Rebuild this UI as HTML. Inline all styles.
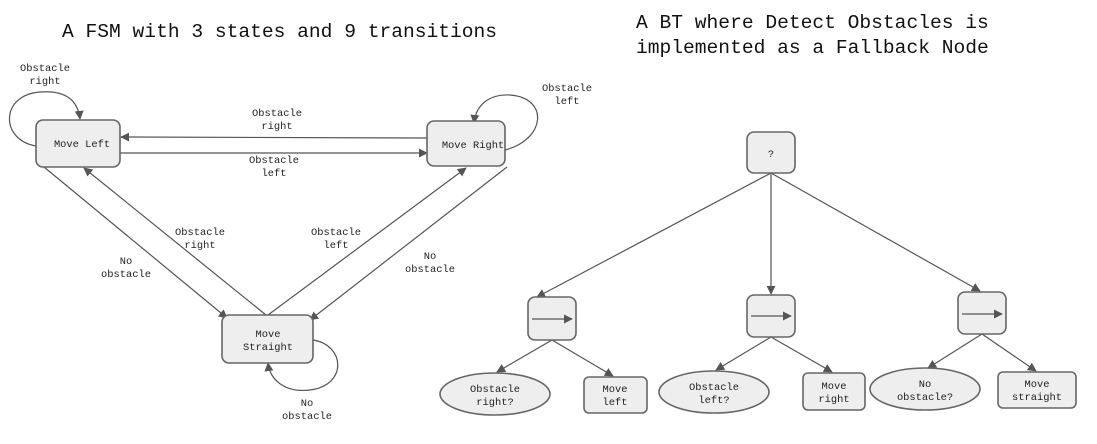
<!DOCTYPE html>
<html><head><meta charset="utf-8"><style>
html,body{margin:0;padding:0;background:#fff;}
svg{display:block;}
text{font-family:"Liberation Mono",monospace;fill:#222;}
.t{font-size:19.6px;fill:#111;}
.s{font-size:10.4px;text-anchor:middle;}
.n{fill:#eeeeee;stroke:#666;stroke-width:1.6;}
.e{fill:none;stroke:#555;stroke-width:1.2;}
</style></head><body>
<svg width="1097" height="444" viewBox="0 0 1097 444" xmlns="http://www.w3.org/2000/svg">
<defs>
<marker id="a" viewBox="0 0 10 10" refX="9" refY="5" markerWidth="9" markerHeight="9" markerUnits="userSpaceOnUse" orient="auto">
<path d="M0,0 L10,5 L0,10 z" fill="#555"/></marker>
</defs>
<text class="t" x="62" y="37">A FSM with 3 states and 9 transitions</text>
<text class="t" x="636" y="28">A BT where Detect Obstacles is</text>
<text class="t" x="636" y="53">implemented as a Fallback Node</text>

<!-- FSM edges -->
<path class="e" d="M120,153 L427,153" marker-end="url(#a)"/>
<path class="e" d="M427,138 L121,137" marker-end="url(#a)"/>
<path class="e" d="M36,146 C0,140 0,95 40,92 C65,90 78,100 80,119" marker-end="url(#a)"/>
<path class="e" d="M505,150 C545,140 550,98 510,95 C490,94 476,104 474,123" marker-end="url(#a)"/>
<path class="e" d="M44,167 L227,318" marker-end="url(#a)"/>
<path class="e" d="M266,315 L84,168" marker-end="url(#a)"/>
<path class="e" d="M268,315 L466,168" marker-end="url(#a)"/>
<path class="e" d="M507,167 L310,320" marker-end="url(#a)"/>
<path class="e" d="M313,340 C345,345 348,385 310,390 C285,393 270,380 268,363" marker-end="url(#a)"/>

<rect class="n" x="36" y="120" width="84" height="47" rx="7"/>
<rect class="n" x="427" y="121" width="78" height="45" rx="7"/>
<rect class="n" x="222" y="315" width="91" height="48" rx="7"/>
<text class="s" x="82" y="147">Move Left</text>
<text class="s" x="473" y="148">Move Right</text>
<text class="s" x="268" y="337">Move</text>
<text class="s" x="268" y="350">Straight</text>

<text class="s" x="45" y="71">Obstacle</text><text class="s" x="45" y="84">right</text>
<text class="s" x="567" y="91">Obstacle</text><text class="s" x="567" y="104">left</text>
<text class="s" x="277" y="116">Obstacle</text><text class="s" x="277" y="129">right</text>
<text class="s" x="274" y="163">Obstacle</text><text class="s" x="274" y="176">left</text>
<text class="s" x="200" y="235">Obstacle</text><text class="s" x="200" y="248">right</text>
<text class="s" x="336" y="235">Obstacle</text><text class="s" x="336" y="248">left</text>
<text class="s" x="126" y="264">No</text><text class="s" x="126" y="277">obstacle</text>
<text class="s" x="430" y="259">No</text><text class="s" x="430" y="272">obstacle</text>
<text class="s" x="307" y="406">No</text><text class="s" x="307" y="419">obstacle</text>

<!-- BT edges -->
<path class="e" d="M771,173 L537,297" marker-end="url(#a)"/>
<path class="e" d="M771,173 L771,294" marker-end="url(#a)"/>
<path class="e" d="M771,173 L980,291" marker-end="url(#a)"/>
<path class="e" d="M552,340 L497,372" marker-end="url(#a)"/>
<path class="e" d="M552,340 L613,376" marker-end="url(#a)"/>
<path class="e" d="M771,337 L716,370" marker-end="url(#a)"/>
<path class="e" d="M771,337 L832,372" marker-end="url(#a)"/>
<path class="e" d="M982,334 L928,368" marker-end="url(#a)"/>
<path class="e" d="M982,334 L1036,371" marker-end="url(#a)"/>

<rect class="n" x="747" y="132" width="48" height="41" rx="7"/>
<text class="s" x="771" y="157">?</text>
<rect class="n" x="528" y="297" width="48" height="43" rx="7"/>
<rect class="n" x="747" y="295" width="48" height="42" rx="7"/>
<rect class="n" x="958" y="292" width="48" height="42" rx="7"/>
<path class="e" d="M532,319 L572,319" marker-end="url(#a)"/>
<path class="e" d="M751,316 L791,316" marker-end="url(#a)"/>
<path class="e" d="M962,314 L1002,314" marker-end="url(#a)"/>

<ellipse class="n" cx="495" cy="394" rx="55" ry="21"/>
<text class="s" x="495" y="392">Obstacle</text><text class="s" x="495" y="405">right?</text>
<rect class="n" x="584" y="377" width="63" height="36" rx="5"/>
<text class="s" x="615" y="392">Move</text><text class="s" x="615" y="405">left</text>
<ellipse class="n" cx="714" cy="392" rx="55" ry="21"/>
<text class="s" x="714" y="390">Obstacle</text><text class="s" x="714" y="403">left?</text>
<rect class="n" x="803" y="373" width="62" height="37" rx="5"/>
<text class="s" x="834" y="389">Move</text><text class="s" x="834" y="402">right</text>
<ellipse class="n" cx="925" cy="389" rx="55" ry="21"/>
<text class="s" x="925" y="387">No</text><text class="s" x="925" y="400">obstacle?</text>
<rect class="n" x="998" y="372" width="78" height="36" rx="5"/>
<text class="s" x="1037" y="387">Move</text><text class="s" x="1037" y="400">straight</text>
</svg>
</body></html>
